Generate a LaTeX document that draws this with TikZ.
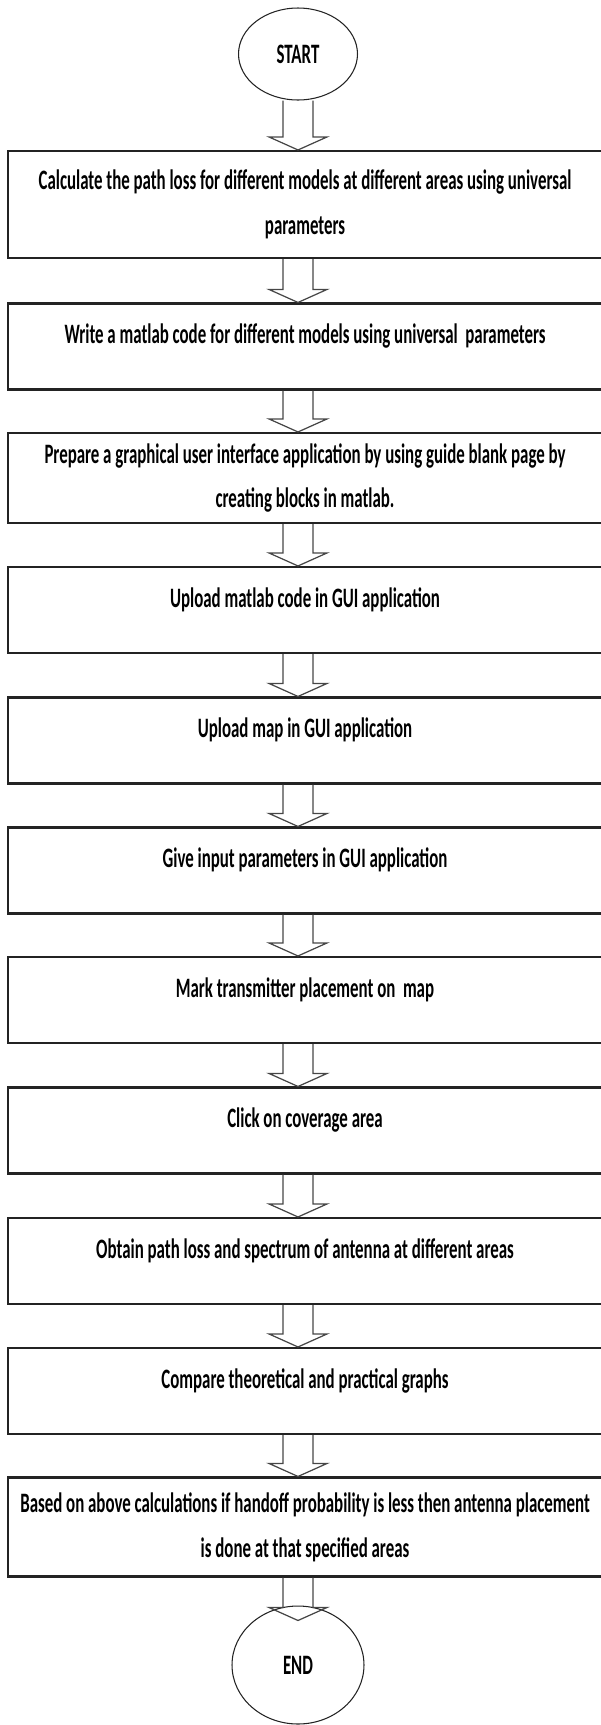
\documentclass[tikz,border=0pt]{standalone}
\usepackage{fontspec}
\setmainfont[FakeStretch=0.6]{Carlito}
\usepackage{tikz}
\usetikzlibrary{shapes.geometric,calc}
\definecolor{flowline}{RGB}{35,35,35}
\definecolor{arrowgray}{RGB}{70,70,70}

% hollow down arrow between two nodes, tip may be pushed down by #1
\newcommand{\blockarrow}[3][0]{%
  \draw[arrowline] ($(start |- #2.south)+(-15,0)$) -- ($(start |- #3.north)+(-15,-13+#1)$)
    -- ++(-14,0) -- ($(start |- #3.north)+(0,#1)$) -- ++(29,-13) -- ++(-14,0)
    -- ($(start |- #2.south)+(15,0)$);}

\begin{document}
\begin{tikzpicture}[x=0.02cm,y=-0.02cm,
  box/.style={draw=flowline, line width=1.2pt, minimum width=11.88cm, align=center,
    inner sep=0pt, font=\fontsize{16}{25.6}\selectfont\bfseries},
  onebox/.style={box, minimum height=1.72cm, text height=10pt, text depth=13.4pt},
  terminal/.style={ellipse, draw=flowline, line width=0.6pt, inner sep=0pt,
    font=\fontsize{16}{19}\selectfont\bfseries},
  arrowline/.style={draw=arrowgray, line width=0.7pt}]
\useasboundingbox (0,0) rectangle (600,1725);

% Start
\node[terminal, minimum width=2.38cm, minimum height=1.84cm] (start) at (298,54) {START};

% Steps
\node[box, minimum height=2.14cm] (b1) at (305,204.5)
  {Calculate the path loss for different models at different areas using universal\\ parameters};
\node[onebox] (b2) at (305,346.5) {Write a matlab code for different models using universal\ \ parameters};
\node[box, minimum height=1.8cm] (b3) at (305,478)
  {Prepare a graphical user interface application by using guide blank page by\\ creating blocks in matlab.};
\node[onebox] (b4) at (305,610) {Upload matlab code in GUI application};
\node[onebox] (b5) at (305,740.5) {Upload map in GUI application};
\node[onebox] (b6) at (305,870.5) {Give input parameters in GUI application};
\node[onebox] (b7) at (305,1000) {Mark transmitter placement on\ \ map};
\node[onebox] (b8) at (305,1130.5) {Click on coverage area};
\node[onebox] (b9) at (305,1261) {Obtain path loss and spectrum of antenna at different areas};
\node[onebox] (b10) at (305,1391) {Compare theoretical and practical graphs};
\node[box, minimum height=1.98cm] (b11) at (305,1527)
  {Based on above calculations if handoff probability is less then antenna placement\\ is done at that specified areas};

% End
\node[terminal, minimum width=2.64cm, minimum height=2.36cm] (stop) at (298,1665) {END};

% Arrows
\blockarrow{start}{b1}
\blockarrow{b1}{b2}
\blockarrow{b2}{b3}
\blockarrow{b3}{b4}
\blockarrow{b4}{b5}
\blockarrow{b5}{b6}
\blockarrow{b6}{b7}
\blockarrow{b7}{b8}
\blockarrow{b8}{b9}
\blockarrow{b9}{b10}
\blockarrow{b10}{b11}
\blockarrow[15]{b11}{stop}
\end{tikzpicture}
\end{document}
